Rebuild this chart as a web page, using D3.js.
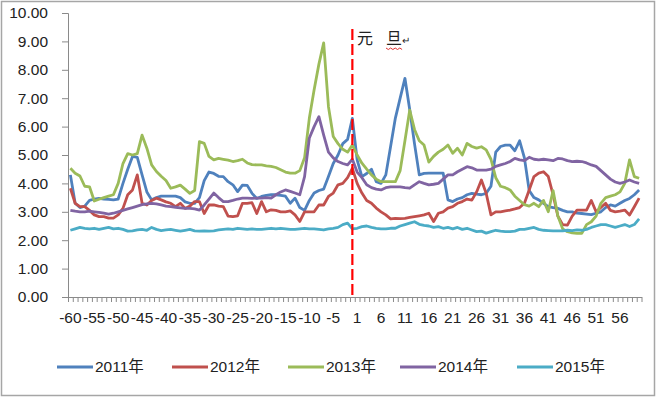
<!DOCTYPE html>
<html lang="zh">
<head>
<meta charset="UTF-8">
<title>元旦前后走势</title>
<script src="https://d3js.org/d3.v7.min.js"></script>
<style>
  body { margin: 0; background: #fff; }
  svg text { font-family: "Liberation Sans", Arial, "Noto Sans CJK SC", sans-serif; fill: #222; }
</style>
</head>
<body>
<svg id="chart" width="662" height="399"></svg>
<script>
// x categories: 60 days before and 60 days after New Year (no day 0)
const categories = d3.range(-60, 0).concat(d3.range(1, 61));
const tickLabels = [-60, -55, -50, -45, -40, -35, -30, -25, -20, -15, -10, -5, 1, 6, 11, 16, 21, 26, 31, 36, 41, 46, 51, 56];
const yTicks = [0, 1, 2, 3, 4, 5, 6, 7, 8, 9, 10];
const seriesNames = ["2011年", "2012年", "2013年", "2014年", "2015年"];
const seriesColors = ["#4F81BD", "#C0504D", "#9BBB59", "#8064A2", "#4BACC6"];
const holidayCat = -1;

const y2011 = [
  4.3, 3.3, 3.15, 3.2, 3.4, 3.45, 3.47, 3.45, 3.44, 3.42, 3.45, 4.0, 4.5, 4.95, 4.92, 4.3, 3.7, 3.42, 3.5, 3.55,
  3.55, 3.55, 3.55, 3.5, 3.35, 3.3, 3.3, 3.5, 4.1, 4.4, 4.35, 4.25, 4.24, 4.06, 3.95, 3.71, 3.94, 3.93, 3.65, 3.47,
  3.54, 3.58, 3.6, 3.6, 3.58, 3.55, 3.3, 3.48, 3.15, 3.05, 3.4, 3.66, 3.75, 3.8, 4.24, 4.7, 5.0, 5.4, 5.55, 6.29,
  4.83, 4.24, 4.35, 4.5, 4.06, 4.0, 4.3, 5.3, 6.3, 7.0, 7.7, 6.6, 5.4, 4.3, 4.35, 4.36, 4.36, 4.36, 4.36, 3.42,
  3.36, 3.45, 3.5, 3.6, 3.65, 3.62, 3.6, 3.65, 3.9, 5.1, 5.3, 5.35, 5.35, 5.15, 5.5, 4.9, 3.75, 3.5, 3.42, 3.3,
  3.18, 3.15, 3.12, 3.05, 3.0, 3.0, 2.95, 2.94, 2.92, 2.9, 2.95, 3.0, 3.15, 3.24, 3.2, 3.3, 3.4, 3.47, 3.6, 3.77
];
const y2012 = [
  3.83, 3.3, 3.18, 3.18, 3.05, 2.89, 2.83, 2.83, 2.78, 2.78, 2.89, 3.12, 3.6, 3.77, 4.3, 3.3, 3.24, 3.4, 3.48, 3.42,
  3.35, 3.3, 3.18, 3.3, 3.12, 3.2, 3.36, 3.36, 2.94, 3.24, 3.24, 3.2, 3.18, 2.85, 2.83, 2.86, 3.3, 3.3, 3.32, 2.94,
  3.36, 3.0, 3.07, 3.05, 3.0, 3.0, 3.03, 2.89, 2.66, 3.0, 3.0, 3.0, 3.24, 3.24, 3.54, 3.66, 3.95, 4.0, 4.2, 4.53,
  4.0, 3.66, 3.4, 3.3, 3.13, 3.0, 2.89, 2.75, 2.77, 2.76, 2.77, 2.8, 2.83, 2.86, 2.89, 2.95, 2.66, 2.95, 3.0, 3.13,
  3.18, 3.3, 3.36, 3.45, 3.41, 3.7, 4.12, 3.65, 2.89, 3.0, 3.0, 3.03, 3.06, 3.1, 3.15, 3.3, 3.77, 4.24, 4.36, 4.41,
  4.24, 3.6, 2.85, 2.55, 2.53, 2.85, 3.06, 3.06, 3.06, 3.4, 3.0, 3.15, 3.3, 3.05, 3.0, 3.02, 3.06, 2.89, 3.18, 3.48
];
const y2013 = [
  4.53, 4.36, 4.26, 3.9, 3.88, 3.38, 3.44, 3.5, 3.55, 3.6, 4.0, 4.7, 5.05, 5.0, 5.05, 5.7, 5.24, 4.65, 4.42, 4.25,
  4.1, 3.83, 3.88, 3.94, 3.8, 3.65, 3.75, 5.47, 5.41, 4.95, 4.83, 4.88, 4.85, 4.82, 4.77, 4.8, 4.85, 4.72, 4.66, 4.65,
  4.65, 4.62, 4.6, 4.56, 4.48, 4.4, 4.36, 4.36, 4.45, 4.9, 6.3, 7.3, 8.2, 8.95, 6.7, 5.65, 5.4, 5.2, 5.1, 5.35,
  5.0, 4.71, 4.5, 4.3, 4.15, 4.06, 4.06, 4.06, 4.06, 4.45, 5.5, 6.58, 5.9, 5.5, 5.35, 4.75, 4.95, 5.1, 5.2, 5.35,
  5.06, 5.24, 5.0, 5.41, 5.3, 5.24, 5.29, 5.18, 4.85, 4.2, 3.9, 3.85, 3.77, 3.55, 3.4, 3.25, 3.2, 3.3, 3.18, 3.4,
  3.0, 3.75, 2.85, 2.4, 2.3, 2.26, 2.24, 2.24, 2.55, 2.65, 2.85, 3.3, 3.5, 3.55, 3.6, 3.7, 4.0, 4.83, 4.24, 4.18
];
const y2014 = [
  3.05, 3.02, 3.0, 3.0, 3.02, 3.0, 2.98, 2.95, 2.92, 2.95, 3.0, 3.05, 3.1, 3.15, 3.2, 3.25, 3.28, 3.3, 3.28, 3.24,
  3.2, 3.18, 3.16, 3.14, 3.12, 3.12, 3.1, 3.06, 3.24, 3.45, 3.66, 3.5, 3.36, 3.36, 3.4, 3.45, 3.48, 3.48, 3.47, 3.48,
  3.48, 3.5, 3.48, 3.6, 3.7, 3.77, 3.72, 3.66, 3.6, 4.24, 5.6, 6.0, 6.35, 5.7, 5.1, 4.9, 4.77, 4.7, 4.65, 4.85,
  4.4, 4.2, 3.95, 3.85, 3.8, 3.77, 3.85, 3.88, 3.88, 3.88, 3.85, 3.83, 3.95, 4.06, 4.0, 3.95, 3.97, 4.0, 4.15, 4.3,
  4.3, 4.41, 4.5, 4.59, 4.55, 4.47, 4.47, 4.47, 4.5, 4.6, 4.65, 4.7, 4.77, 4.88, 4.83, 4.8, 4.92, 4.85, 4.83, 4.85,
  4.83, 4.8, 4.88, 4.86, 4.8, 4.77, 4.78, 4.77, 4.72, 4.65, 4.6, 4.45, 4.3, 4.15, 4.05, 4.0, 4.05, 4.12, 4.05, 4.0
];
const y2015 = [
  2.35, 2.4, 2.45, 2.42, 2.4, 2.42, 2.38, 2.42, 2.45, 2.4, 2.42, 2.38, 2.32, 2.33, 2.36, 2.38, 2.35, 2.45, 2.38, 2.34,
  2.36, 2.38, 2.35, 2.32, 2.35, 2.38, 2.33, 2.32, 2.33, 2.32, 2.33, 2.36, 2.38, 2.4, 2.38, 2.42, 2.4, 2.38, 2.4, 2.38,
  2.38, 2.4, 2.42, 2.4, 2.42, 2.4, 2.38, 2.38, 2.4, 2.42, 2.4, 2.4, 2.38, 2.36, 2.4, 2.42, 2.45, 2.55, 2.6, 2.4,
  2.42, 2.48, 2.5, 2.45, 2.42, 2.4, 2.4, 2.42, 2.42, 2.5, 2.55, 2.6, 2.65, 2.56, 2.52, 2.5, 2.45, 2.48, 2.42, 2.45,
  2.4, 2.45, 2.38, 2.42, 2.36, 2.3, 2.32, 2.25, 2.3, 2.35, 2.32, 2.3, 2.3, 2.32, 2.38, 2.38, 2.42, 2.45, 2.38, 2.35,
  2.34, 2.33, 2.33, 2.33, 2.35, 2.34, 2.36, 2.35, 2.38, 2.45, 2.5, 2.55, 2.55, 2.5, 2.45, 2.5, 2.55, 2.48, 2.55, 2.75
];
const seriesValues = [y2011, y2012, y2013, y2014, y2015];

const svg = d3.select("#chart");
const plot = { left: 68, right: 641.5, top: 13, bottom: 297 };

// outer chart border
svg.append("rect")
  .attr("x", 1.5).attr("y", 1.5)
  .attr("width", 653).attr("height", 394)
  .attr("fill", "#fff").attr("stroke", "#a6a6a6").attr("stroke-width", 1.5);

const x = d3.scaleBand().domain(categories).range([plot.left, plot.right]).padding(0);
const bw = x.bandwidth();
const xc = c => x(c) + bw / 2;
const xEdge = d3.scaleLinear().domain([0, categories.length]).range([plot.left, plot.right]);
const y = d3.scaleLinear().domain([0, 10]).range([plot.bottom, plot.top]);

// y axis
const yAxis = svg.append("g")
  .attr("transform", `translate(${plot.left},0)`)
  .call(d3.axisLeft(y).tickValues(yTicks).tickSize(6).tickPadding(14).tickFormat(d3.format(".2f")));
yAxis.selectAll("text").style("font-size", "15.5px").attr("fill", "#222");
yAxis.selectAll("line, path").attr("stroke", "#8a8a8a");

// x axis: small ticks between every category
const xAxis = svg.append("g")
  .attr("transform", `translate(0,${plot.bottom})`)
  .call(d3.axisBottom(xEdge).tickValues(d3.range(categories.length + 1)).tickSize(5).tickSizeOuter(0).tickFormat(""));
xAxis.selectAll("line, path").attr("stroke", "#8a8a8a");

// x labels every 5 categories
const xLab = svg.append("g")
  .attr("transform", `translate(0,${plot.bottom})`)
  .call(d3.axisBottom(x).tickValues(tickLabels).tickSize(0).tickPadding(15));
xLab.select(".domain").remove();
xLab.selectAll("text").style("font-size", "15.5px").attr("fill", "#222");

// series lines
const line = d3.line()
  .x((d, i) => xc(categories[i]))
  .y(d => y(d));

seriesValues.forEach((vals, k) => {
  svg.append("path")
    .datum(vals)
    .attr("fill", "none")
    .attr("stroke", seriesColors[k])
    .attr("stroke-width", 2.8)
    .attr("stroke-linejoin", "round")
    .attr("d", line);
});

// New Year marker
svg.append("line")
  .attr("x1", xc(holidayCat)).attr("x2", xc(holidayCat))
  .attr("y1", 29).attr("y2", plot.bottom)
  .attr("stroke", "#ff0000").attr("stroke-width", 2.2)
  .attr("stroke-dasharray", "11,4");

svg.append("text")
  .attr("x", 357).attr("y", 44)
  .style("font-family", "'Noto Sans CJK SC', sans-serif")
  .style("font-size", "16px").attr("fill", "#000")
  .text("元");
svg.append("text")
  .attr("x", 386).attr("y", 44)
  .style("font-family", "'Noto Sans CJK SC', sans-serif")
  .style("font-size", "16px").attr("fill", "#000")
  .text("旦");
svg.append("text")
  .attr("x", 402).attr("y", 44)
  .style("font-size", "10px").attr("fill", "#888")
  .text("↵");
// red wavy spell-check underline under 旦
const wave = d3.range(0, 8).map(i => [386 + i * 2.3, 48 + (i % 2 ? 1.5 : 0)]);
svg.append("path")
  .attr("d", d3.line()(wave))
  .attr("fill", "none").attr("stroke", "#e03030").attr("stroke-width", 1);

// legend
const legendX = [57, 172, 288, 400, 517];
const legend = svg.append("g");
seriesNames.forEach((name, k) => {
  legend.append("line")
    .attr("x1", legendX[k]).attr("x2", legendX[k] + 36)
    .attr("y1", 367).attr("y2", 367)
    .attr("stroke", seriesColors[k]).attr("stroke-width", 2.8);
  legend.append("text")
    .attr("x", legendX[k] + 38).attr("y", 367)
    .attr("dy", "0.35em")
    .style("font-size", "15.5px").attr("fill", "#222")
    .text(name);
});
</script>
</body>
</html>
